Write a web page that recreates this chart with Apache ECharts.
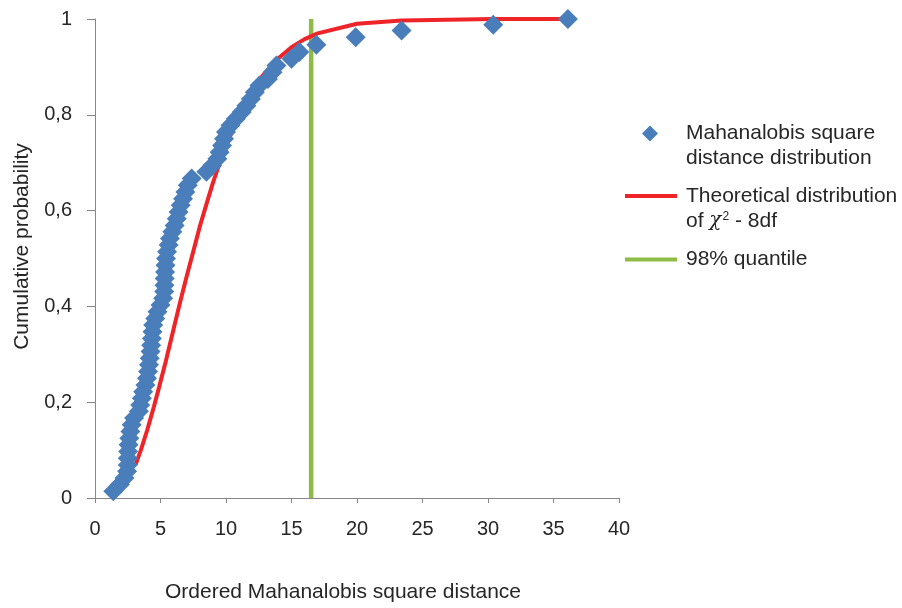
<!DOCTYPE html>
<html>
<head>
<meta charset="utf-8">
<script src="https://cdn.jsdelivr.net/npm/echarts@6/dist/echarts.min.js"></script>
<style>
  html, body { margin: 0; padding: 0; background: #ffffff; }
  #chart { width: 902px; height: 608px; }
</style>
</head>
<body>
<div id="chart"></div>
<script>
// Ordered Mahalanobis square distances (x) and cumulative probability (y)
const mahalX = [1.4, 1.9, 2.25, 2.45, 2.5, 2.5, 2.53, 2.56, 2.62, 2.7,
  2.8, 2.98, 3.35, 3.45, 3.58, 3.68, 3.85, 3.97, 4.05, 4.12,
  4.18, 4.24, 4.29, 4.34, 4.39, 4.44, 4.6, 4.77, 5.0, 5.2,
  5.28, 5.3, 5.32, 5.35, 5.38, 5.42, 5.5, 5.62, 5.72, 5.9,
  6.08, 6.24, 6.38, 6.54, 6.72, 6.9, 7.08, 7.38, 8.5, 8.95,
  9.34, 9.52, 9.7, 9.85, 10.0, 10.35, 10.75, 11.2, 11.55, 11.9,
  12.2, 12.55, 13.2, 13.55, 13.85, 15.0, 15.6, 16.9, 19.9, 23.4,
  30.4, 36.1];
const mahalY = [0.014, 0.028, 0.042, 0.056, 0.069, 0.083, 0.097, 0.111, 0.125, 0.139,
  0.153, 0.167, 0.181, 0.194, 0.208, 0.222, 0.236, 0.25, 0.264, 0.278,
  0.292, 0.306, 0.319, 0.333, 0.347, 0.361, 0.375, 0.389, 0.403, 0.417,
  0.431, 0.444, 0.458, 0.472, 0.486, 0.5, 0.514, 0.528, 0.542, 0.556,
  0.569, 0.583, 0.597, 0.611, 0.625, 0.639, 0.653, 0.667, 0.681, 0.694,
  0.708, 0.722, 0.736, 0.75, 0.764, 0.778, 0.792, 0.806, 0.819, 0.833,
  0.847, 0.861, 0.875, 0.889, 0.903, 0.917, 0.931, 0.946, 0.962, 0.976,
  0.988, 1.0];

// Theoretical chi-square (8 df) curve
const theoX = [3.1, 3.5, 4.0, 4.5, 4.9, 5.4, 6.0, 6.5, 7.0, 7.4, 8.0, 8.6, 9.0, 9.5, 10.0,
  10.8, 11.5, 12.2, 13.0, 14.0, 15.0, 16.0, 17.0, 20.0, 23.4, 30.4, 36.1];
const theoY = [0.070, 0.100, 0.143, 0.191, 0.232, 0.285, 0.353, 0.409, 0.463, 0.504, 0.567,
  0.622, 0.658, 0.698, 0.735, 0.787, 0.826, 0.862, 0.888, 0.918, 0.941, 0.958, 0.970,
  0.990, 0.997, 1.000, 1.000];

// 98% quantile vertical line
const quantileX = [16.5, 16.5];
const quantileY = [0, 1];

const xTickLabels = ['0', '5', '10', '15', '20', '25', '30', '35', '40'];
const yTickLabels = ['0', '0,2', '0,4', '0,6', '0,8', '1'];

const seriesNames = ['Mahanalobis square distance distribution',
  'Theoretical distribution of chi2 - 8df', '98% quantile'];

const zip = (a, b) => a.map((v, i) => [v, b[i]]);
const FONT = "'Liberation Sans', Arial, sans-serif";
const TXT = '#262626';
const AXIS = '#868686';
const BLUE = '#4a7ebb';
const RED = '#ee2428';
const GREEN = '#8fbb47';

const legendBase = { orient: 'vertical', padding: 0, selectedMode: false };
const legendText = (twoLine, padLeft) => ({
  fontFamily: FONT, fontSize: 21, lineHeight: 25, color: TXT,
  padding: twoLine ? [25, 0, 0, padLeft] : [0, 0, 0, padLeft],
  rich: {
    chi: { fontFamily: "'DejaVu Serif', serif", fontStyle: 'italic', fontSize: 20, lineHeight: 25, color: TXT },
    sup: { fontFamily: FONT, fontSize: 12, lineHeight: 25, color: TXT, padding: [0, 0, 9, 1] },
    t: { fontFamily: FONT, fontSize: 21, lineHeight: 25, color: TXT }
  }
});

const chart = echarts.init(document.getElementById('chart'), null, { renderer: 'canvas' });
chart.setOption({
  animation: false,
  backgroundColor: '#ffffff',
  textStyle: { fontFamily: FONT },
  grid: { left: 95, right: 283, top: 19, bottom: 104, containLabel: false },
  legend: [
    Object.assign({}, legendBase, {
      left: 642, top: 96, itemWidth: 16, itemHeight: 16,
      data: [{ name: seriesNames[0], icon: 'diamond', itemStyle: { color: BLUE } }],
      formatter: () => 'Mahanalobis square\ndistance distribution',
      textStyle: legendText(true, 23)
    }),
    Object.assign({}, legendBase, {
      left: 625, top: 158.5, itemWidth: 52, itemHeight: 4,
      data: [{ name: seriesNames[1], icon: 'rect', itemStyle: { color: RED } }],
      formatter: () => '{t|Theoretical distribution}\n{t|of }{chi|χ}{sup|2}{t| - 8df}',
      textStyle: legendText(true, 4)
    }),
    Object.assign({}, legendBase, {
      left: 625, top: 247, itemWidth: 52, itemHeight: 4,
      data: [{ name: seriesNames[2], icon: 'rect', itemStyle: { color: GREEN } }],
      formatter: () => '98% quantile',
      textStyle: legendText(false, 4)
    })
  ],
  xAxis: {
    type: 'value', min: 0, max: 40, interval: 5,
    name: 'Ordered Mahanalobis square distance',
    nameLocation: 'middle', nameGap: 84,
    nameTextStyle: { fontFamily: FONT, fontSize: 21, color: TXT, padding: [0, 28, 0, 0] },
    axisLine: { show: true, lineStyle: { color: AXIS, width: 1 } },
    axisTick: { show: true, inside: false, length: 5, lineStyle: { color: AXIS } },
    axisLabel: {
      margin: 21, fontFamily: FONT, fontSize: 20, color: TXT,
      formatter: (v) => xTickLabels[Math.round(v / 5)]
    },
    splitLine: { show: false }
  },
  yAxis: {
    type: 'value', min: 0, max: 1, interval: 0.2,
    name: 'Cumulative probability',
    nameLocation: 'middle', nameGap: 62, nameRotate: 90,
    nameTextStyle: { fontFamily: FONT, fontSize: 21, color: TXT, padding: [0, 0, 0, 24] },
    axisLine: { show: true, lineStyle: { color: AXIS, width: 1 } },
    axisTick: { show: true, inside: false, length: 8, lineStyle: { color: AXIS } },
    axisLabel: {
      margin: 23, fontFamily: FONT, fontSize: 20, color: TXT,
      formatter: (v) => yTickLabels[Math.round(v / 0.2)]
    },
    splitLine: { show: false }
  },
  series: [
    {
      name: seriesNames[2], type: 'line', data: zip(quantileX, quantileY),
      symbol: 'none', showSymbol: false, z: 2,
      lineStyle: { color: GREEN, width: 4.5 }, itemStyle: { color: GREEN }
    },
    {
      name: seriesNames[1], type: 'line', data: zip(theoX, theoY),
      symbol: 'none', showSymbol: false, z: 3,
      lineStyle: { color: RED, width: 4 }, itemStyle: { color: RED }
    },
    {
      name: seriesNames[0], type: 'scatter', data: zip(mahalX, mahalY),
      symbol: 'diamond', symbolSize: 20, z: 4,
      itemStyle: { color: BLUE, opacity: 1 }
    }
  ]
});
</script>
</body>
</html>
